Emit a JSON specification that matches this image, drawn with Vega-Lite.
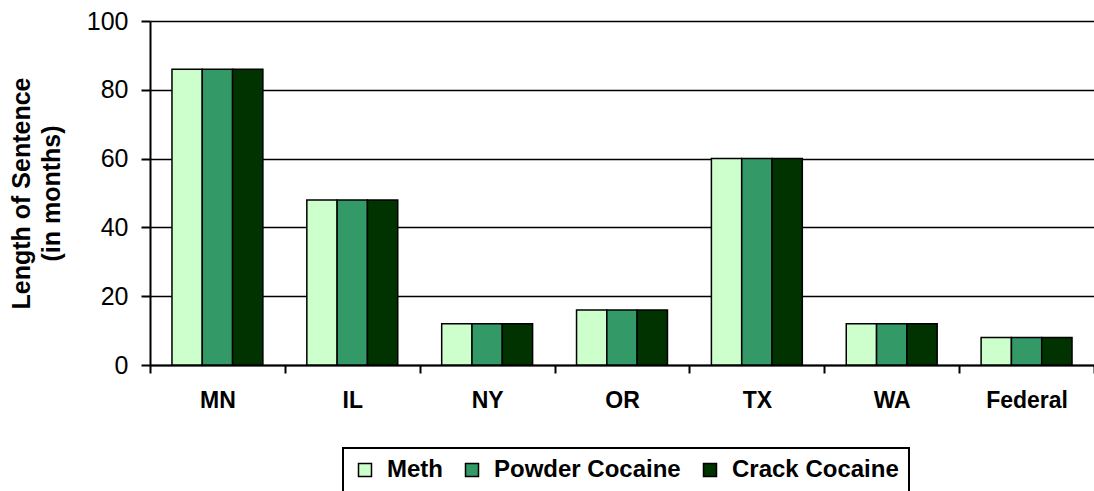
{
  "$schema": "https://vega.github.io/schema/vega-lite/v6.json",
  "autosize": "none",
  "width": 944,
  "height": 344,
  "padding": {"left": 150, "top": 21, "right": 0, "bottom": 126},
  "background": "white",
  "config": {
    "view": {"stroke": null},
    "font": "Liberation Sans",
    "axis": {"labelFont": "Liberation Sans", "titleFont": "Liberation Sans", "labelColor": "black", "titleColor": "black", "domainColor": "black", "tickColor": "black", "gridColor": "black"},
    "legend": {"labelFont": "Liberation Sans", "strokeWidth": 2}
  },
  "data": {
    "values": [
      {"state": "MN", "drug": "Meth", "months": 86},
      {"state": "MN", "drug": "Powder Cocaine", "months": 86},
      {"state": "MN", "drug": "Crack Cocaine", "months": 86},
      {"state": "IL", "drug": "Meth", "months": 48},
      {"state": "IL", "drug": "Powder Cocaine", "months": 48},
      {"state": "IL", "drug": "Crack Cocaine", "months": 48},
      {"state": "NY", "drug": "Meth", "months": 12},
      {"state": "NY", "drug": "Powder Cocaine", "months": 12},
      {"state": "NY", "drug": "Crack Cocaine", "months": 12},
      {"state": "OR", "drug": "Meth", "months": 16},
      {"state": "OR", "drug": "Powder Cocaine", "months": 16},
      {"state": "OR", "drug": "Crack Cocaine", "months": 16},
      {"state": "TX", "drug": "Meth", "months": 60},
      {"state": "TX", "drug": "Powder Cocaine", "months": 60},
      {"state": "TX", "drug": "Crack Cocaine", "months": 60},
      {"state": "WA", "drug": "Meth", "months": 12},
      {"state": "WA", "drug": "Powder Cocaine", "months": 12},
      {"state": "WA", "drug": "Crack Cocaine", "months": 12},
      {"state": "Federal", "drug": "Meth", "months": 8},
      {"state": "Federal", "drug": "Powder Cocaine", "months": 8},
      {"state": "Federal", "drug": "Crack Cocaine", "months": 8}
    ]
  },
  "mark": {"type": "bar", "stroke": "black", "strokeWidth": 1.5},
  "encoding": {
    "x": {
      "field": "state", "type": "nominal",
      "sort": ["MN", "IL", "NY", "OR", "TX", "WA", "Federal"],
      "scale": {"paddingInner": 0, "paddingOuter": 0},
      "axis": {"title": null, "labelAngle": 0, "labelFontSize": 23, "labelFontWeight": "bold", "labelPadding": 16, "tickBand": "extent", "tickSize": 8, "domainWidth": 2, "tickWidth": 2, "grid": false}
    },
    "xOffset": {
      "field": "drug", "type": "nominal",
      "sort": ["Meth", "Powder Cocaine", "Crack Cocaine"],
      "scale": {"paddingInner": 0, "paddingOuter": 0.725}
    },
    "y": {
      "field": "months", "type": "quantitative",
      "scale": {"domain": [0, 100]},
      "axis": {"title": ["Length of Sentence", "(in months)"], "titleFontSize": 25, "titleFontWeight": "bold", "titleLineHeight": 30, "titlePadding": 22, "labelFontSize": 25, "labelPadding": 13, "tickSize": 9, "tickWidth": 2, "domainWidth": 2, "values": [0, 20, 40, 60, 80, 100], "grid": true, "gridWidth": 1.5}
    },
    "fill": {
      "field": "drug", "type": "nominal",
      "sort": ["Meth", "Powder Cocaine", "Crack Cocaine"],
      "scale": {"domain": ["Meth", "Powder Cocaine", "Crack Cocaine"], "range": ["#CCFFCC", "#339966", "#003300"]},
      "legend": {
        "title": null, "orient": "none", "direction": "horizontal",
        "legendX": 193, "legendY": 427,
        "strokeColor": "black", "padding": 10,
        "symbolType": "square", "symbolSize": 169, "symbolStrokeColor": "black", "symbolStrokeWidth": 1.5,
        "labelFontSize": 24, "labelFontWeight": "bold", "labelColor": "black", "labelLimit": 0, "columnPadding": 17, "labelOffset": 10
      }
    }
  }
}
